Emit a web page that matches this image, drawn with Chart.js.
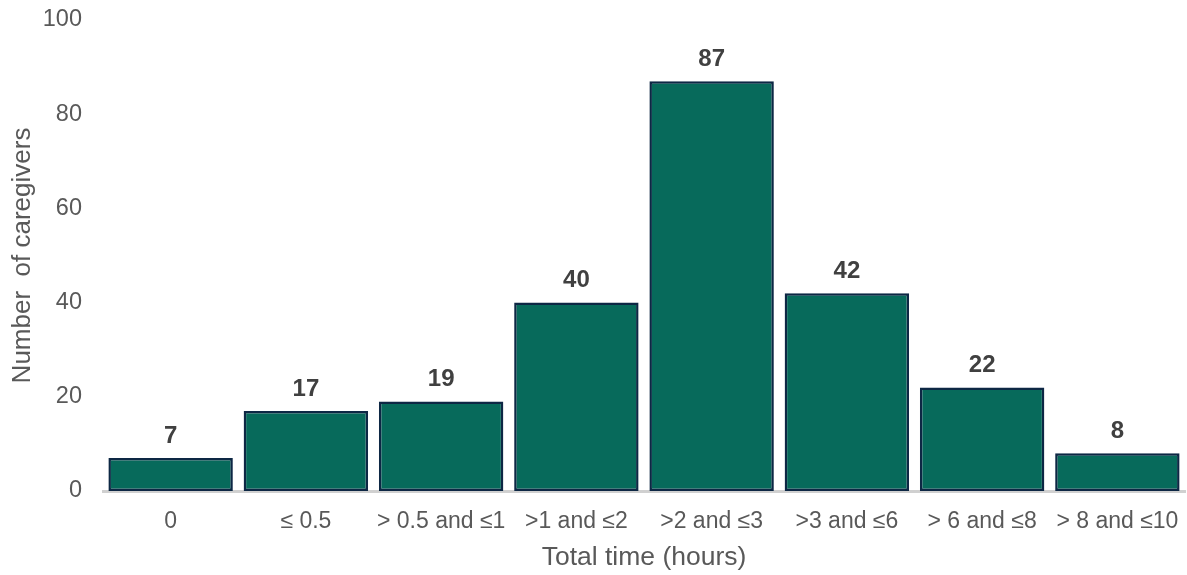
<!DOCTYPE html>
<html>
<head>
<meta charset="utf-8">
<script src="https://cdn.jsdelivr.net/npm/chart.js@4/dist/chart.umd.min.js"></script>
<style>
html,body{margin:0;padding:0;background:#fff;}
#wrap{width:1187px;height:575px;}
</style>
</head>
<body>
<div id="wrap"><canvas id="timeChart" width="1187" height="575"></canvas></div>
<script>
const categories = ["0", "\u2264 0.5", "> 0.5 and \u22641", ">1 and \u22642", ">2 and \u22643", ">3 and \u22646", "> 6 and \u22648", "> 8 and \u226410"];
const caregivers = [7, 17, 19, 40, 87, 42, 22, 8];
const yTicks = [0, 20, 40, 60, 80, 100];

const fontFam = "'Liberation Sans', Arial, sans-serif";

// labels above each bar
const barValueLabels = {
  id: "barValueLabels",
  afterDatasetsDraw(chart){
    const ctx = chart.ctx;
    const meta = chart.getDatasetMeta(0);
    ctx.save();
    ctx.font = "bold 24px " + fontFam;
    ctx.fillStyle = "#404040";
    ctx.textAlign = "center";
    ctx.textBaseline = "bottom";
    meta.data.forEach(function(bar, i){
      ctx.fillText(caregivers[i], bar.x, bar.y - 10);
    });
    ctx.restore();
  }
};

new Chart(document.getElementById("timeChart"), {
  type: "bar",
  data: {
    labels: categories,
    datasets: [{
      data: caregivers,
      backgroundColor: "#076a5b",
      borderColor: "#0d2744",
      borderWidth: 2.5,
      borderSkipped: false,
      barPercentage: 0.92,
      categoryPercentage: 1
    }]
  },
  options: {
    responsive: false,
    animation: false,
    layout: {padding: {top: 20, right: 2, left: 0, bottom: 0}},
    plugins: {
      legend: {display: false},
      tooltip: {enabled: false}
    },
    scales: {
      x: {
        afterFit(scale){ scale.height = 84; scale.paddingLeft = 0; scale.paddingRight = 0; },
        grid: {display: false},
        border: {display: true, color: "#d0d0d0", width: 3},
        ticks: {color: "#595959", font: {family: fontFam, size: 23}, padding: 9, maxRotation: 0, autoSkip: false},
        title: {display: true, text: "Total time (hours)", color: "#595959", font: {family: fontFam, size: 26.5}, padding: {top: 0, bottom: 1}}
      },
      y: {
        min: 0,
        max: 100,
        afterBuildTicks(scale){ scale.ticks = yTicks.map(v => ({value: v})); },
        afterFit(scale){ scale.width = 103; scale.paddingTop = 0; scale.paddingBottom = 0; },
        grid: {display: false},
        border: {display: false},
        ticks: {color: "#595959", font: {family: fontFam, size: 23.5}, padding: 13},
        title: {display: true, text: "Number  of caregivers", color: "#595959", font: {family: fontFam, size: 26}, padding: {top: 7, bottom: 0}}
      }
    }
  },
  plugins: [barValueLabels]
});
</script>
</body>
</html>
